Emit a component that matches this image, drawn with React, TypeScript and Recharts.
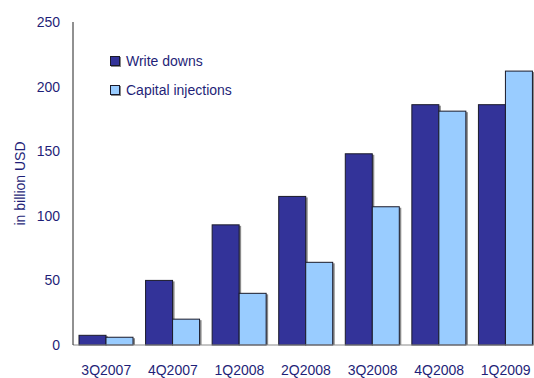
import React from 'react';
import { BarChart, Bar, XAxis, YAxis, Legend } from 'recharts';

const categories = ['3Q2007', '4Q2007', '1Q2008', '2Q2008', '3Q2008', '4Q2008', '1Q2009'];
const writeDowns = [7.5, 50, 93, 115, 148, 186, 186];
const capitalInjections = [6, 20, 40, 64, 107, 181, 212];
const yTicks = [0, 50, 100, 150, 200, 250];
const seriesOrder = ['writeDowns', 'capitalInjections'];

const data = categories.map((c, i) => ({
  quarter: c,
  writeDowns: writeDowns[i],
  capitalInjections: capitalInjections[i],
}));

const DARK = '#333399';
const LIGHT = '#99CCFF';
const TEXT = '#1f1f78';
const FONT = '"Liberation Sans", Arial, sans-serif';

const ShadowBar = (props: any) => {
  const { x, y, width, height, fill } = props;
  if (height <= 0) return null;
  return (
    <g>
      <rect x={x + 2} y={y + 1} width={width} height={height - 1} fill="#8a8a8a" />
      <rect x={x} y={y} width={width} height={height} fill={fill} stroke="#1a1a2a" strokeWidth={1} />
    </g>
  );
};

const LegendContent = (props: any) => {
  const payload = [...(props.payload || [])].sort(
    (a: any, b: any) => seriesOrder.indexOf(a.dataKey) - seriesOrder.indexOf(b.dataKey)
  );
  return (
    <div style={{ position: 'relative', width: 200, height: 70, fontFamily: FONT }}>
      {payload.map((p: any, i: number) => (
        <div key={i} style={{ position: 'absolute', left: 0, top: i * 28.7, height: 14, display: 'flex', alignItems: 'center' }}>
          <div style={{ width: 8, height: 8, background: p.color, border: '1px solid #1a1a2a', boxShadow: '1px 1px 0 #888' }} />
          <span style={{ marginLeft: 6, fontSize: 14, color: TEXT, lineHeight: '14px' }}>{p.value}</span>
        </div>
      ))}
    </div>
  );
};

export default function App() {
  return (
    <div style={{ position: 'absolute', left: 0, top: 0, width: 534, height: 378, overflow: 'hidden', background: '#fff' }}>
      <BarChart
        width={542}
        height={378}
        data={data}
        margin={{ top: 22, right: 3, bottom: 0, left: 0 }}
        barCategoryGap={6}
        barGap={0}
        style={{ fontFamily: FONT }}
      >
        <XAxis
          dataKey="quarter"
          height={33}
          axisLine={{ stroke: '#8a8a8a', strokeWidth: 1 }}
          tickLine={false}
          tick={{ fill: TEXT, fontSize: 14, fontFamily: FONT }}
          tickMargin={14}
          interval={0}
        />
        <YAxis
          width={73}
          domain={[0, 250]}
          ticks={yTicks}
          axisLine={{ stroke: '#222', strokeWidth: 1 }}
          tickLine={false}
          tick={{ fill: TEXT, fontSize: 14, fontFamily: FONT }}
          tickMargin={7}
          label={{
            content: (lp: any) => {
              const vb = lp.viewBox || {};
              const cy = (vb.y || 22) + (vb.height || 323) / 2;
              return (
                <text
                  x={20}
                  y={cy}
                  transform={`rotate(-90, 20, ${cy})`}
                  textAnchor="middle"
                  dominantBaseline="central"
                  fill={TEXT}
                  fontSize={14}
                  fontFamily={FONT}
                >
                  in billion USD
                </text>
              );
            },
          }}
        />
        <Legend
          layout="vertical"
          align="center"
          verticalAlign="middle"
          wrapperStyle={{ left: 110, top: 54, width: 200, height: 70 }}
          content={<LegendContent />}
        />
        <Bar dataKey="writeDowns" name="Write downs" fill={DARK} shape={<ShadowBar />} isAnimationActive={false} />
        <Bar dataKey="capitalInjections" name="Capital injections" fill={LIGHT} shape={<ShadowBar />} isAnimationActive={false} />
      </BarChart>
    </div>
  );
}
